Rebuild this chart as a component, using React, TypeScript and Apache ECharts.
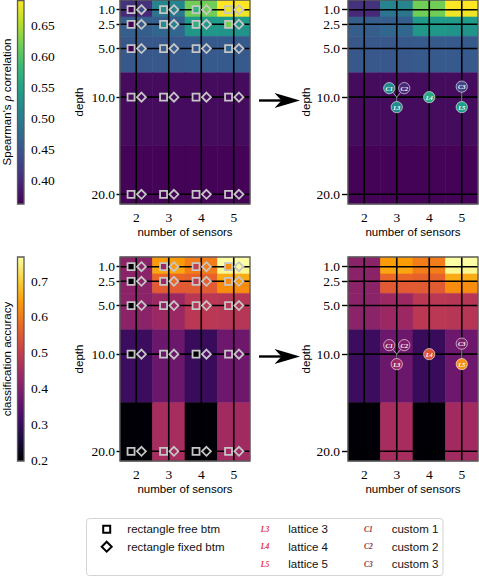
import React, { useEffect, useRef } from "react";
import * as echarts from "echarts";

// ---------------- data ----------------
const sensorCounts = [2, 3, 4, 5];
const depthTicks = [1, 2.5, 5, 10, 20];
const depthBandEdges = [0, 1, 1.75, 2.5, 3.75, 7.5, 15, 21];

const spearmanTicks = [0.4, 0.45, 0.5, 0.55, 0.6, 0.65];
const accuracyTicks = [0.2, 0.3, 0.4, 0.5, 0.6, 0.7];
const spearmanRange = [0.362, 0.69];
const accuracyRange = [0.198, 0.767];

// heatmap values: one row per depth band (top to bottom), one column per sensor count
const spearmanBands = [
  [0.41, 0.51, 0.618, 0.69],
  [0.398, 0.49, 0.618, 0.683],
  [0.46, 0.46, 0.54, 0.54],
  [0.46, 0.47, 0.535, 0.53],
  [0.453, 0.453, 0.455, 0.455],
  [0.372, 0.372, 0.372, 0.372],
  [0.364, 0.364, 0.364, 0.364],
];
const accuracyBands = [
  [0.414, 0.641, 0.602, 0.767],
  [0.414, 0.653, 0.602, 0.757],
  [0.414, 0.574, 0.565, 0.66],
  [0.414, 0.551, 0.553, 0.622],
  [0.414, 0.437, 0.482, 0.477],
  [0.306, 0.369, 0.3, 0.373],
  [0.2, 0.454, 0.2, 0.445],
];

// marker values: one row per depth tick, one column per sensor count
const spearmanFreeBtm = [
  [0.364, 0.526, 0.575, 0.68],
  [0.364, 0.52, 0.57, 0.62],
  [0.364, 0.46, 0.455, 0.47],
  [0.372, 0.372, 0.372, 0.372],
  [0.364, 0.364, 0.364, 0.364],
];
const spearmanFixedBtm = [
  [0.44, 0.51, 0.618, 0.69],
  [0.455, 0.505, 0.535, 0.535],
  [0.455, 0.455, 0.455, 0.455],
  [0.372, 0.372, 0.372, 0.372],
  [0.364, 0.364, 0.364, 0.364],
];
const accuracyFreeBtm = [
  [0.2, 0.44, 0.495, 0.625],
  [0.2, 0.44, 0.49, 0.615],
  [0.2, 0.42, 0.475, 0.475],
  [0.2, 0.37, 0.2, 0.37],
  [0.2, 0.454, 0.2, 0.445],
];
const accuracyFixedBtm = [
  [0.414, 0.641, 0.602, 0.767],
  [0.414, 0.574, 0.556, 0.64],
  [0.414, 0.437, 0.482, 0.477],
  [0.3, 0.369, 0.33, 0.373],
  [0.2, 0.454, 0.2, 0.445],
];

const layoutNames = ["L3", "L4", "L5", "C1", "C2", "C3"];
const layoutSensors = [3, 4, 5, 3, 3, 5];
const layoutDepths = [10, 10, 10, 10, 10, 10];
const layoutSpearman = [0.52, 0.56, 0.545, 0.52, 0.4, 0.43];
const layoutAccuracy = [0.44, 0.54, 0.625, 0.41, 0.4, 0.395];

const legendRows = [
  ["rectangle free btm", "lattice 3", "custom 1"],
  ["rectangle fixed btm", "lattice 4", "custom 2"],
  ["", "lattice 5", "custom 3"],
];
const legendLatticeIcons = ["L3", "L4", "L5"];
const legendCustomIcons = ["C1", "C2", "C3"];

// ---------------- styles ----------------
const VIRIDIS = ["#440154", "#482878", "#3e4989", "#31688e", "#26828e", "#1f9e89", "#35b779", "#6ece58", "#b5de2b", "#fde725"];
const INFERNO = ["#000004", "#1b0c41", "#4a0c6b", "#781c6d", "#a52c60", "#cf4446", "#ed6925", "#fb9b06", "#f7d13d", "#fcffa4"];
const SERIF = "Liberation Serif";
const SANS = "Liberation Sans";
const X_MIN = 1.5;
const X_MAX = 5.5;
const Y_MIN = 0;
const Y_MAX = 21;
const LABEL_OFFSETS: Record<string, number[]> = {
  L3: [0, 10],
  L4: [0, 0],
  L5: [0, 10],
  C1: [-7.5, -9],
  C2: [7.5, -9],
  C3: [0, -10.5],
};
const GRIDS = [
  { left: 120, top: 0, width: 130, height: 204 },
  { left: 348, top: 0, width: 130, height: 204 },
  { left: 120, top: 257, width: 130, height: 204 },
  { left: 348, top: 257, width: 130, height: 204 },
  { left: 17.5, top: 0.5, width: 6.5, height: 203.5 },
  { left: 17.5, top: 257, width: 6.5, height: 204 },
];

function bandData(bands: number[][]) {
  const out: number[][] = [];
  bands.forEach((row, i) =>
    row.forEach((v, j) => out.push([sensorCounts[j], depthBandEdges[i], v, depthBandEdges[i + 1]]))
  );
  return out;
}
function markerData(vals: number[][]) {
  const out: number[][] = [];
  vals.forEach((row, i) => row.forEach((v, j) => out.push([sensorCounts[j], depthTicks[i], v])));
  return out;
}
function layoutData(vals: number[]) {
  return layoutNames.map((_, i) => [layoutSensors[i], layoutDepths[i], vals[i]]);
}
function gridLineData() {
  return [
    ...sensorCounts.map((x) => [x, Y_MIN, 0]),
    ...depthTicks.map((d) => [X_MIN, d, 1]),
  ];
}

const renderHeat = (params: any, api: any) => {
  const x = api.value(0);
  const p0 = api.coord([x - 0.5, api.value(1)]);
  const p1 = api.coord([x + 0.5, api.value(3)]);
  const color = api.visual("color");
  return {
    type: "rect",
    shape: { x: p0[0], y: p0[1], width: p1[0] - p0[0], height: p1[1] - p0[1] },
    style: { fill: color, stroke: color, lineWidth: 0.6 },
  };
};

const renderGridLine = (params: any, api: any) => {
  const kind = api.value(2);
  let a, b;
  if (kind === 0) {
    a = api.coord([api.value(0), Y_MIN]);
    b = api.coord([api.value(0), Y_MAX]);
  } else {
    a = api.coord([X_MIN, api.value(1)]);
    b = api.coord([X_MAX, api.value(1)]);
  }
  return {
    type: "line",
    shape: { x1: a[0], y1: a[1], x2: b[0], y2: b[1] },
    style: { stroke: "#000", lineWidth: 1.6 },
  };
};

const renderLayout = (params: any, api: any) => {
  const name = layoutNames[params.dataIndex];
  const off = LABEL_OFFSETS[name];
  const c = api.coord([api.value(0), api.value(1)]);
  const color = api.visual("color");
  const px = c[0] + off[0];
  const py = c[1] + off[1];
  const children: any[] = [];
  if (off[0] !== 0 || off[1] !== 0) {
    children.push({
      type: "line",
      shape: { x1: c[0], y1: c[1], x2: px, y2: py },
      style: { stroke: "rgba(225,225,225,0.9)", lineWidth: 0.7 },
    });
  }
  children.push({
    type: "circle",
    shape: { cx: px, cy: py, r: 5.6 },
    style: { fill: color, stroke: "rgba(255,255,255,0.75)", lineWidth: 0.8 },
  });
  children.push({
    type: "text",
    x: px,
    y: py,
    style: {
      text: name,
      fill: "#ffffff",
      fontFamily: SERIF,
      fontStyle: "italic",
      fontWeight: "bold",
      fontSize: 6.5,
      align: "center",
      verticalAlign: "middle",
    },
  });
  return { type: "group", children };
};

const makeColorbar = (stops: string[], range: number[]) => (params: any, api: any) => {
  const p0 = api.coord([0, range[1]]);
  const p1 = api.coord([1, range[0]]);
  const rev = stops.slice().reverse();
  return {
    type: "rect",
    shape: { x: p0[0], y: p0[1], width: p1[0] - p0[0], height: p1[1] - p0[1] },
    style: {
      fill: new echarts.graphic.LinearGradient(
        0, 0, 0, 1,
        rev.map((c, i) => ({ offset: i / (rev.length - 1), color: c }))
      ),
    },
  };
};

const heatX = (gi: number) => ({
  gridIndex: gi,
  type: "value",
  min: X_MIN,
  max: X_MAX,
  name: "number of sensors",
  nameLocation: "middle",
  nameGap: 22,
  nameTextStyle: { fontFamily: SANS, fontSize: 11.5, color: "#000" },
  axisLine: { show: false },
  splitLine: { show: false },
  axisTick: { show: true, customValues: sensorCounts, length: 3.5, lineStyle: { color: "#000", width: 1 } },
  axisLabel: {
    customValues: sensorCounts,
    margin: 6,
    fontFamily: SERIF,
    fontSize: 13.5,
    color: "#000",
    formatter: (v: number) => String(v),
  },
});
const heatY = (gi: number, tickLen: number, margin: number) => ({
  gridIndex: gi,
  type: "value",
  inverse: true,
  min: Y_MIN,
  max: Y_MAX,
  name: "depth",
  nameLocation: "middle",
  nameGap: 35,
  nameRotate: 90,
  nameTextStyle: { fontFamily: SANS, fontSize: 11.5, color: "#000" },
  axisLine: { show: false },
  splitLine: { show: false },
  axisTick: { show: true, customValues: depthTicks, length: tickLen, lineStyle: { color: "#000", width: 1.4 } },
  axisLabel: {
    customValues: depthTicks,
    margin,
    fontFamily: SERIF,
    fontSize: 13.5,
    color: "#000",
    formatter: (v: number) => v.toFixed(1),
  },
});
const barY = (gi: number, range: number[], ticks: number[], digits: number) => ({
  gridIndex: gi,
  type: "value",
  min: range[0],
  max: range[1],
  position: "right",
  axisLine: { show: false },
  splitLine: { show: false },
  axisTick: { show: true, customValues: ticks, length: 3.5, lineStyle: { color: "#000", width: 1 } },
  axisLabel: {
    customValues: ticks,
    margin: 7,
    fontFamily: SERIF,
    fontSize: 13.5,
    color: "#000",
    formatter: (v: number) => v.toFixed(digits),
  },
});

function buildOption() {
  const series: any[] = [];
  // 0-3 heat
  [[0, spearmanBands], [1, spearmanBands], [2, accuracyBands], [3, accuracyBands]].forEach(([gi, bands]: any) => {
    series.push({
      type: "custom",
      xAxisIndex: gi,
      yAxisIndex: gi,
      data: bandData(bands),
      encode: { x: 0, y: [1, 3] },
      renderItem: renderHeat,
      silent: true,
      z: 1,
    });
  });
  // 4-7 grid lines
  [0, 1, 2, 3].forEach((gi) => {
    series.push({
      type: "custom",
      xAxisIndex: gi,
      yAxisIndex: gi,
      data: gridLineData(),
      renderItem: renderGridLine,
      silent: true,
      z: 2,
    });
  });
  // 8-11 markers
  const markerSeries = (gi: number, vals: number[][], symbol: string, size: number, dx: number) => ({
    type: "scatter",
    xAxisIndex: gi,
    yAxisIndex: gi,
    data: markerData(vals),
    symbol,
    symbolSize: size,
    symbolOffset: [dx, 0],
    itemStyle: { borderColor: "#c6c6c6", borderWidth: 1.8, opacity: 1 },
    silent: true,
    z: 5,
  });
  series.push(markerSeries(0, spearmanFreeBtm, "rect", 7, -5.2));
  series.push(markerSeries(0, spearmanFixedBtm, "diamond", 9, 5.2));
  series.push(markerSeries(2, accuracyFreeBtm, "rect", 7, -5.2));
  series.push(markerSeries(2, accuracyFixedBtm, "diamond", 9, 5.2));
  // 12-13 layouts
  series.push({
    type: "custom",
    xAxisIndex: 1,
    yAxisIndex: 1,
    data: layoutData(layoutSpearman),
    renderItem: renderLayout,
    silent: true,
    z: 6,
  });
  series.push({
    type: "custom",
    xAxisIndex: 3,
    yAxisIndex: 3,
    data: layoutData(layoutAccuracy),
    renderItem: renderLayout,
    silent: true,
    z: 6,
  });
  // 14-15 colorbars
  series.push({
    type: "custom",
    xAxisIndex: 4,
    yAxisIndex: 4,
    data: [[0, spearmanRange[0]]],
    renderItem: makeColorbar(VIRIDIS, spearmanRange),
    silent: true,
  });
  series.push({
    type: "custom",
    xAxisIndex: 5,
    yAxisIndex: 5,
    data: [[0, accuracyRange[0]]],
    renderItem: makeColorbar(INFERNO, accuracyRange),
    silent: true,
  });

  const frames = GRIDS.map((g) => ({
    type: "rect",
    shape: { x: g.left, y: g.top, width: g.width, height: g.height },
    style: { fill: "none", stroke: "#5a5a5a", lineWidth: 1.3 },
    z: 100,
    silent: true,
  }));
  const arrow = (y: number) => ({
    type: "group",
    z: 100,
    children: [
      { type: "line", shape: { x1: 259, y1: y, x2: 284, y2: y }, style: { stroke: "#000", lineWidth: 2.4 } },
      {
        type: "polygon",
        shape: { points: [[300, y], [274.5, y - 7.5], [281.5, y], [274.5, y + 7.5]] },
        style: { fill: "#000" },
      },
    ],
  });
  const rotLabel = (text: string, y: number, rich?: any) => ({
    type: "text",
    x: 7,
    y,
    rotation: Math.PI / 2,
    style: {
      text,
      fontFamily: SANS,
      fontSize: 11.5,
      fill: "#000",
      align: "center",
      verticalAlign: "middle",
      rich,
    },
  });
  const legendEls: any[] = [
    {
      type: "rect",
      shape: { x: 86.5, y: 518.5, width: 356.5, height: 57, r: 3 },
      style: { fill: "#fff", stroke: "#d4d4d4", lineWidth: 1 },
    },
    {
      type: "rect",
      shape: { x: 103.2, y: 525.8, width: 7, height: 7 },
      style: { fill: "#fff", stroke: "#000", lineWidth: 2 },
    },
    {
      type: "polygon",
      shape: { points: [[106.7, 541.7], [111.7, 546.7], [106.7, 551.7], [101.7, 546.7]] },
      style: { fill: "#fff", stroke: "#000", lineWidth: 2 },
    },
  ];
  const rowY = [529.3, 546.7, 564.3];
  const textStyle = { fontFamily: SANS, fontSize: 11.5, fill: "#111", verticalAlign: "middle", align: "left" };
  legendRows.forEach((row, i) => {
    if (row[0]) legendEls.push({ type: "text", x: 127.3, y: rowY[i], style: { ...textStyle, text: row[0] } });
    legendEls.push({ type: "text", x: 288.3, y: rowY[i], style: { ...textStyle, text: row[1] } });
    legendEls.push({ type: "text", x: 391.7, y: rowY[i], style: { ...textStyle, text: row[2] } });
    legendEls.push({
      type: "text",
      x: 265,
      y: rowY[i],
      style: {
        text: legendLatticeIcons[i],
        fill: "#e5322f",
        fontFamily: SERIF,
        fontStyle: "italic",
        fontWeight: "bold",
        fontSize: 7.5,
        align: "center",
        verticalAlign: "middle",
      },
    });
    legendEls.push({
      type: "text",
      x: 368.3,
      y: rowY[i],
      style: {
        text: legendCustomIcons[i],
        fill: "#8a2f35",
        fontFamily: SERIF,
        fontStyle: "italic",
        fontWeight: "bold",
        fontSize: 7.5,
        align: "center",
        verticalAlign: "middle",
      },
    });
  });

  return {
    animation: false,
    backgroundColor: "#ffffff",
    grid: GRIDS.map((g) => ({ ...g, containLabel: false })),
    xAxis: [
      heatX(0),
      heatX(1),
      heatX(2),
      heatX(3),
      { gridIndex: 4, type: "value", min: 0, max: 1, show: false },
      { gridIndex: 5, type: "value", min: 0, max: 1, show: false },
    ],
    yAxis: [
      heatY(0, 3.5, 5),
      heatY(1, 6, 8),
      heatY(2, 3.5, 5),
      heatY(3, 6, 8),
      barY(4, spearmanRange, spearmanTicks, 2),
      barY(5, accuracyRange, accuracyTicks, 1),
    ],
    visualMap: [
      {
        type: "continuous",
        show: false,
        min: spearmanRange[0],
        max: spearmanRange[1],
        dimension: 2,
        seriesIndex: [0, 1, 8, 9, 12],
        inRange: { color: VIRIDIS },
      },
      {
        type: "continuous",
        show: false,
        min: accuracyRange[0],
        max: accuracyRange[1],
        dimension: 2,
        seriesIndex: [2, 3, 10, 11, 13],
        inRange: { color: INFERNO },
      },
    ],
    series,
    graphic: [
      ...frames,
      arrow(100.5),
      arrow(356.5),
      rotLabel("Spearman's {i|ρ} correlation", 102, {
        i: { fontFamily: SERIF, fontStyle: "italic", fontSize: 12 },
      }),
      rotLabel("classification accuracy", 359),
      ...legendEls,
    ],
  };
}

export default function App() {
  const ref = useRef<HTMLDivElement>(null);
  useEffect(() => {
    if (!ref.current) return;
    const chart = echarts.init(ref.current, undefined, { renderer: "svg" });
    chart.setOption(buildOption() as any);
    return () => chart.dispose();
  }, []);
  return (
    <div
      ref={ref}
      style={{ position: "fixed", left: 0, top: 0, width: 479, height: 577, background: "#fff" }}
    />
  );
}
